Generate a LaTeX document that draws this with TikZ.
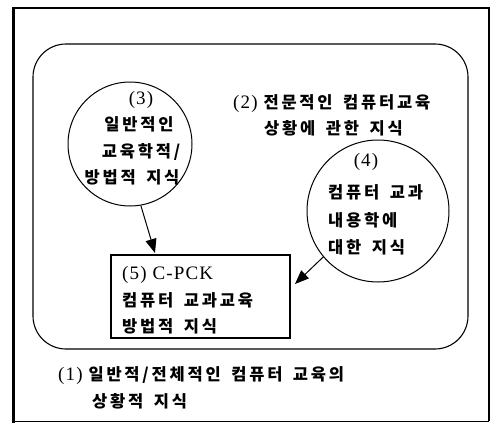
\documentclass[tikz,border=0pt]{standalone}
\usepackage{fontspec}
\setmainfont{Liberation Serif}[LetterSpace=6]
\newfontfamily\kr{Noto Sans CJK KR}[LetterSpace=17,WordSpace=1.6]
\usetikzlibrary{arrows.meta}
\newcommand\krtext[1]{{\kr\bfseries\fontsize{16.5}{20}\selectfont #1}}
\begin{document}
\begin{tikzpicture}[x=1pt,y=-1pt,
  txt/.style={inner sep=0pt, font=\fontsize{19}{23}\selectfont},
  ln/.style={line width=1pt},
  arr/.style={line width=1pt, -{Triangle[length=14pt,width=11pt]}}]
\useasboundingbox (0,0) rectangle (493,423);
\fill[white] (0,0) rectangle (493,423);
% outer frame
\draw[line width=2pt] (13,8) -- (488.5,8) -- (488.5,421);
\draw[line width=0.9pt] (488.5,421) -- (13,421);
\draw[line width=3.5pt] (13.5,7) -- (13.5,423);
% containers
\node[draw, line width=1.1pt, rounded corners=33pt, minimum width=435pt, minimum height=305pt, inner sep=0pt] (ctx) at (250.5,196.5) {};
\node[draw, circle, ln, minimum size=124pt, inner sep=0pt] (c3) at (130,144) {};
\node[draw, circle, ln, minimum size=142pt, inner sep=0pt] (c4) at (378,211) {};
\node[draw, line width=1.1pt, minimum width=179pt, minimum height=83pt, inner sep=0pt] (c5) at (200.5,296.5) {};
% texts (2)
\node[txt, anchor=base west] (t2a) at (233,108.3) {(2)~\krtext{전문적인 컴퓨터교육}};
\node[txt, anchor=base west] (t2b) at (264,134.3) {\krtext{상황에 관한 지식}};
% texts (3)
\node[txt, anchor=base] (t3a) at (141,104) {(3)};
\node[txt, anchor=base] (t3b) at (139,130.8) {\krtext{일반적인}};
\node[txt, anchor=base] (t3c) at (141,157.3) {\krtext{교육학적/}};
\node[txt, anchor=base] (t3d) at (132,183.3) {\krtext{방법적 지식}};
% texts (4)
\node[txt, anchor=base] (t4a) at (366,166.8) {(4)};
\node[txt, anchor=base west] (t4b) at (328,198.3) {\krtext{컴퓨터 교과}};
\node[txt, anchor=base west] (t4c) at (328,226.3) {\krtext{내용학에}};
\node[txt, anchor=base west] (t4d) at (328,253.3) {\krtext{대한 지식}};
% texts (5)
\node[txt, anchor=base west] (t5a) at (122,279) {(5) C-PCK};
\node[txt, anchor=base west] (t5b) at (122,306.3) {\krtext{컴퓨터 교과교육}};
\node[txt, anchor=base west] (t5c) at (122,332.3) {\krtext{방법적 지식}};
% texts (1)
\node[txt, anchor=base west] (t1a) at (58,380) {(1)~\krtext{일반적/전체적인 컴퓨터 교육의}};
\node[txt, anchor=base west] (t1b) at (92,407) {\krtext{상황적 지식}};
% arrows
\coordinate (p3) at (155,253);
\coordinate (p4) at (295,284);
\draw[arr] (c3.280) -- (p3);
\draw[arr] (c4.220) -- (p4);
\end{tikzpicture}
\end{document}
